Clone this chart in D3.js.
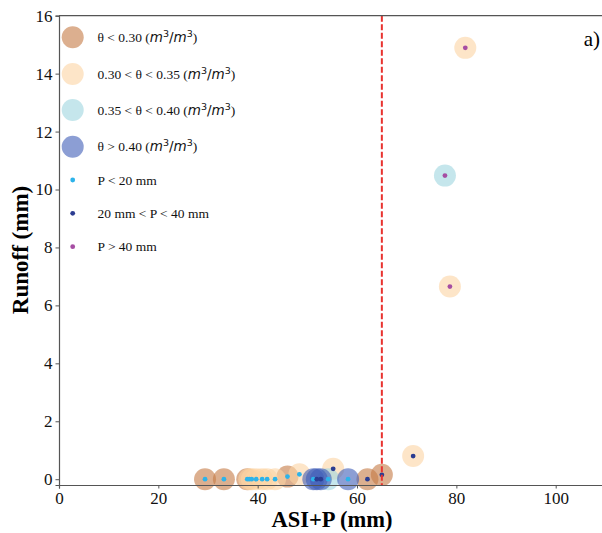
<!DOCTYPE html>
<html>
<head>
<meta charset="utf-8">
<script src="https://cdn.jsdelivr.net/npm/d3@7"></script>
<style>
  html, body { margin: 0; padding: 0; background: #fff; }
  svg { display: block; }
</style>
</head>
<body>
<div id="chart"></div>
<script>
// ---- data ----
const asiP      = [29.4, 33.2, 37.9, 38.3, 38.8, 39.7, 40.9, 41.9, 43.5, 46.0, 48.4, 51.2, 51.9, 52.7, 54.2, 55.2, 58.2, 62.1, 65.0, 71.3, 78.7, 77.7, 81.8];
const runoff    = [0, 0, 0, 0, 0, 0, 0, 0, 0, 0.09, 0.17, 0, 0, 0, 0, 0.36, 0, 0, 0.15, 0.80, 6.65, 10.48, 14.89];
const thetaCls  = [0, 0, 0, 1, 1, 1, 1, 1, 1, 0, 1, 3, 3, 3, 2, 1, 3, 0, 0, 1, 1, 2, 1];
const precipCls = [0, 0, 0, 0, 0, 0, 0, 0, 0, 0, 0, 0, 1, 1, 0, 1, 0, 1, 1, 1, 2, 2, 2];

const thetaLabels  = ["θ < 0.30 (", "0.30 < θ < 0.35 (", "0.35 < θ  < 0.40 (", "θ > 0.40 ("];
const precipLabels = ["P < 20 mm", "20 mm < P < 40 mm", "P > 40 mm"];
const xTicks = [0, 20, 40, 60, 80, 100];
const yTicks = [0, 2, 4, 6, 8, 10, 12, 14, 16];
const threshold = 65;
const xDomain = [0, 110];
const yDomain = [-0.2, 16];

// ---- styles ----
const thetaColors  = ["#C47A45", "#FCD4A3", "#9ED5DF", "#3F5DB8"];
const precipColors = ["#2DB3EA", "#2B3C91", "#A64DA3"];
const serif = "'Liberation Serif', 'Times New Roman', serif";
const mathFont = "'DejaVu Sans', sans-serif";

const W = 602, H = 533;
const svg = d3.select("#chart").append("svg").attr("width", W).attr("height", H);

const x = d3.scaleLinear().domain(xDomain).range([59, 59 + 110 * 4.967]);
const y = d3.scaleLinear().domain(yDomain).range([485, 15.7]);

const data = asiP.map((v, i) => ({ x: v, y: runoff[i], t: thetaCls[i], p: precipCls[i] }));

// big circles, drawn class by class
const gc = svg.append("g");
[0, 1, 2, 3].forEach(c => {
  gc.selectAll(null).data(data.filter(d => d.t === c)).join("circle")
    .attr("cx", d => x(d.x)).attr("cy", d => y(d.y)).attr("r", 11)
    .attr("fill", thetaColors[c]).attr("fill-opacity", 0.6);
});
// small dots
const gd = svg.append("g");
[0, 1, 2].forEach(c => {
  gd.selectAll(null).data(data.filter(d => d.p === c)).join("circle")
    .attr("cx", d => x(d.x)).attr("cy", d => y(d.y)).attr("r", 2.4)
    .attr("fill", precipColors[c]);
});

// threshold line
svg.append("line")
  .attr("x1", x(threshold)).attr("x2", x(threshold))
  .attr("y1", y(16)).attr("y2", y(yDomain[0]))
  .attr("stroke", "#E8332F").attr("stroke-width", 2)
  .attr("stroke-dasharray", "6,2.5");

// axes
const axisColor = "#555";
const xAxis = svg.append("g").attr("transform", `translate(0,${y(yDomain[0])})`)
  .call(d3.axisBottom(x).tickValues(xTicks).tickSize(3.5).tickPadding(3).tickFormat(d3.format("d")));
const yAxis = svg.append("g").attr("transform", `translate(${x(0)},0)`)
  .call(d3.axisLeft(y).tickValues(yTicks).tickSize(3.5).tickPadding(3).tickFormat(d3.format("d")));
[xAxis, yAxis].forEach(a => {
  a.select(".domain").attr("stroke", axisColor).attr("stroke-width", 1.2);
  a.selectAll(".tick line").attr("stroke", axisColor);
  a.selectAll(".tick text").attr("font-family", serif).attr("font-size", 17).attr("fill", "#111");
});
// top spine
svg.append("line").attr("x1", x(0)).attr("x2", W).attr("y1", y(16)).attr("y2", y(16))
  .attr("stroke", axisColor).attr("stroke-width", 1.2);

// axis titles
svg.append("text").attr("x", 332).attr("y", 527).attr("text-anchor", "middle")
  .attr("font-family", serif).attr("font-weight", "bold").attr("font-size", 22.5).attr("fill", "#000")
  .text("ASI+P (mm)");
svg.append("text").attr("transform", "translate(28,250) rotate(-90)").attr("text-anchor", "middle")
  .attr("font-family", serif).attr("font-weight", "bold").attr("font-size", 23).attr("fill", "#000")
  .text("Runoff (mm)");

// panel label
svg.append("text").attr("x", 600).attr("y", 46).attr("text-anchor", "end")
  .attr("font-family", serif).attr("font-size", 21).attr("fill", "#000").text("a)");

// legend
const lg = svg.append("g");
const thetaY = [37.3, 74, 110, 146.7];
const precipY = [180, 213.3, 246.7];
thetaLabels.forEach((lab, i) => {
  lg.append("circle").attr("cx", 72.7).attr("cy", thetaY[i]).attr("r", 11)
    .attr("fill", thetaColors[i]).attr("fill-opacity", 0.6);
  const t = lg.append("text").attr("x", 97.5).attr("y", thetaY[i] + 4.5)
    .attr("font-family", serif).attr("font-size", 13.5).attr("fill", "#111");
  t.append("tspan").text(lab);
  t.append("tspan").attr("font-family", mathFont).attr("font-style", "italic").attr("font-size", 13.5).text("m");
  t.append("tspan").attr("font-family", mathFont).attr("font-size", 9.5).attr("dy", -5).text("3");
  t.append("tspan").attr("font-family", mathFont).attr("font-size", 13.5).attr("dy", 5).text("/");
  t.append("tspan").attr("font-family", mathFont).attr("font-style", "italic").attr("font-size", 13.5).text("m");
  t.append("tspan").attr("font-family", mathFont).attr("font-size", 9.5).attr("dy", -5).text("3");
  t.append("tspan").attr("dy", 5).text(")");
});
precipLabels.forEach((lab, i) => {
  lg.append("circle").attr("cx", 72.7).attr("cy", precipY[i]).attr("r", 2.4).attr("fill", precipColors[i]);
  lg.append("text").attr("x", 97.5).attr("y", precipY[i] + 4.5)
    .attr("font-family", serif).attr("font-size", 13.5).attr("fill", "#111").text(lab);
});
</script>
</body>
</html>
